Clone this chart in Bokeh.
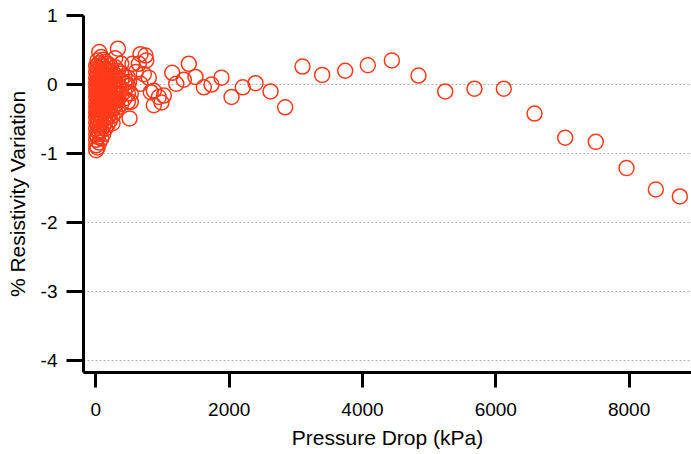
from bokeh.plotting import figure
from bokeh.models import Range1d, FixedTicker, ColumnDataSource
from bokeh.embed import file_html
from bokeh.resources import INLINE

# Dense cluster at low pressure drop: column pressure (kPa) -> list of % variation
cluster_x = [5, 25, 50, 80, 110, 140, 175, 210, 250, 290, 330, 380, 430, 480]
cluster_y = [
    [-0.95, -0.88, -0.80, -0.72, -0.64, -0.55, -0.47, -0.40, -0.33, -0.26, -0.18, -0.11, -0.04, 0.03, 0.10, 0.18, 0.27],
    [-0.91, -0.76, -0.68, -0.58, -0.50, -0.42, -0.36, -0.29, -0.21, -0.14, -0.07, 0.01, 0.08, 0.15, 0.24, 0.35],
    [-0.84, -0.70, -0.61, -0.52, -0.44, -0.37, -0.30, -0.22, -0.15, -0.08, -0.02, 0.06, 0.13, 0.22, 0.31, 0.47],
    [-0.78, -0.66, -0.55, -0.47, -0.39, -0.32, -0.24, -0.17, -0.10, -0.03, 0.04, 0.11, 0.19, 0.28, 0.40],
    [-0.72, -0.60, -0.50, -0.41, -0.34, -0.26, -0.19, -0.12, -0.05, 0.02, 0.09, 0.17, 0.26, 0.36],
    [-0.64, -0.55, -0.46, -0.37, -0.29, -0.21, -0.13, -0.06, 0.00, 0.07, 0.15, 0.23, 0.33],
    [-0.58, -0.48, -0.38, -0.30, -0.22, -0.15, -0.08, -0.01, 0.06, 0.14, 0.21, 0.30],
    [-0.52, -0.42, -0.33, -0.25, -0.17, -0.10, -0.03, 0.04, 0.12, 0.20, 0.28],
    [-0.56, -0.45, -0.36, -0.27, -0.18, -0.11, -0.04, 0.03, 0.10, 0.18],
    [-0.40, -0.30, -0.21, -0.12, -0.05, 0.05, 0.14, 0.25, 0.38],
    [-0.33, -0.22, -0.13, -0.02, 0.08, 0.20, 0.52],
    [-0.28, -0.15, -0.05, 0.06, 0.16, 0.30],
    [-0.20, -0.10, 0.02, 0.12],
    [-0.25, -0.13, -0.02, 0.10],
]

# Scattered points at higher pressure drop
pressure_kpa = [505, 524, 524, 499, 549, 599, 644, 669, 744, 755, 719, 669, 794, 824,
                869, 869, 944, 984, 1019, 1145, 1205, 1319, 1394, 1494, 1619, 1734,
                1884, 2035, 2204, 2395, 2620, 2840, 3100, 3395, 3740, 4080, 4440,
                4840, 5241, 5680, 6120, 6581, 7041, 7500, 7961, 8401, 8761]
resistivity_pct = [-0.49, -0.25, -0.13, 0.04, 0.30, 0.18, 0.30, 0.44, 0.42, 0.35, 0.15, 0.01, 0.10, -0.11,
                   -0.09, -0.30, -0.18, -0.26, -0.16, 0.17, 0.01, 0.07, 0.30, 0.11, -0.04, 0.00,
                   0.10, -0.18, -0.04, 0.02, -0.10, -0.33, 0.26, 0.14, 0.20, 0.28, 0.35,
                   0.13, -0.10, -0.06, -0.06, -0.42, -0.77, -0.83, -1.21, -1.52, -1.62]

y_ticks = [1, 0, -1, -2, -3, -4]
y_tick_labels = ["1", "0", "-1", "-2", "-3", "-4"]
x_ticks = [0, 2000, 4000, 6000, 8000]
x_tick_labels = ["0", "2000", "4000", "6000", "8000"]

xs, ys = [], []
for cx, col in zip(cluster_x, cluster_y):
    for v in col:
        xs.append(cx)
        ys.append(v)
xs += pressure_kpa
ys += resistivity_pct

src = ColumnDataSource(dict(x=xs, y=ys))

p = figure(width=691, height=454, output_backend="svg", toolbar_location=None,
           x_range=Range1d(-186, 8936), y_range=Range1d(-4.17, 1.0),
           min_border_left=83, min_border_right=0, min_border_top=15, min_border_bottom=82)
p.outline_line_color = None
p.background_fill_color = "white"

p.scatter("x", "y", source=src, marker="circle", size=15, fill_color=None,
          line_color="#ff3a1a", line_width=1.5)

font = "Liberation Sans"
for ax in (p.xaxis[0], p.yaxis[0]):
    ax.axis_line_width = 3
    ax.axis_line_color = "black"
    ax.major_tick_line_width = 3
    ax.major_tick_line_color = "black"
    ax.major_tick_in = 0
    ax.minor_tick_line_color = None
    ax.major_label_text_font = font
    ax.major_label_text_font_size = "19px"
    ax.major_label_text_color = "black"
    ax.axis_label_text_font = font
    ax.axis_label_text_font_size = "21px"
    ax.axis_label_text_font_style = "normal"
    ax.axis_label_text_color = "black"

p.xaxis[0].ticker = FixedTicker(ticks=x_ticks)
p.yaxis[0].ticker = FixedTicker(ticks=y_ticks)
p.xaxis[0].major_label_overrides = dict(zip(x_ticks, x_tick_labels))
p.yaxis[0].major_label_overrides = dict(zip(y_ticks, y_tick_labels))
p.xaxis[0].major_tick_out = 15
p.yaxis[0].major_tick_out = 17
p.xaxis[0].major_label_standoff = 15
p.yaxis[0].major_label_standoff = 9
p.xaxis[0].axis_label = "Pressure Drop (kPa)"
p.yaxis[0].axis_label = "% Resistivity Variation"
p.xaxis[0].axis_label_standoff = 7
p.yaxis[0].axis_label_standoff = 9

p.xgrid.grid_line_color = None
p.ygrid.grid_line_color = "#b0b0b0"
p.ygrid.grid_line_dash = "2 2"
p.ygrid.grid_line_width = 1

open("out.html", "w").write(file_html(p, INLINE))
